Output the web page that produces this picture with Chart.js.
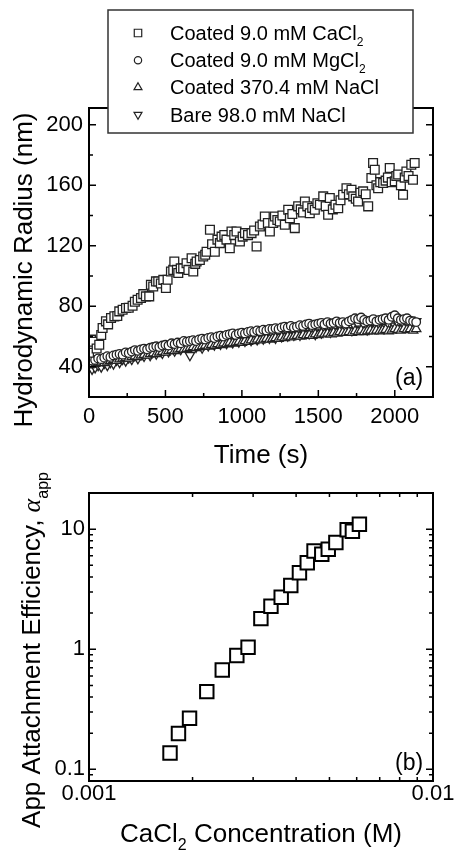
<!DOCTYPE html>
<html><head><meta charset="utf-8">
<script src="https://cdn.jsdelivr.net/npm/chart.js"></script>
<style>
html,body{margin:0;padding:0;background:#fff;}
#wrap{position:relative;width:454px;height:850px;overflow:hidden;background:#fff;}
canvas{position:absolute;left:0;}
#ca{top:0;} #cb{top:470px;}
</style></head><body>
<div id="wrap">
<canvas id="ca" width="454" height="470"></canvas>
<canvas id="cb" width="454" height="380"></canvas>
</div>
<script>
// ---------- DATA ----------
const seriesLabels = ['Coated 9.0 mM CaCl_{2}', 'Coated 9.0 mM MgCl_{2}', 'Coated 370.4 mM NaCl', 'Bare 98.0 mM NaCl'];

const timeCaCl2 = [0,13,28,50,67,80,89,111,125,144,166,185,198,220,242,260,285,300,318,340,355,372,394,405,420,438,453,470,486,503,514,536,551,558,575,584,600,616,638,650,671,682,695,704,725,747,760,769,791,805,823,840,856,867,885,899,921,932,950,965,987,1005,1020,1040,1063,1080,1096,1118,1135,1150,1170,1183,1205,1216,1232,1248,1265,1281,1303,1314,1330,1346,1368,1385,1400,1412,1428,1444,1460,1477,1494,1510,1532,1548,1564,1575,1595,1612,1630,1645,1662,1684,1700,1717,1728,1745,1760,1775,1793,1810,1826,1847,1858,1869,1880,1891,1905,1924,1940,1955,1967,1980,2000,2010,2022,2040,2054,2065,2076,2090,2108,2119,2130];
const radiusCaCl2 = [49.3,57.9,56.5,52,54.5,61,65.6,70,68,72.2,73.3,73.5,76.6,77.7,78.8,79,80.3,83,84.3,85.4,88,86.5,86.5,94.2,93,96.4,96.3,95,97.4,92,97.5,103,104,109.6,104,102,105,105,108.4,104,111.7,103,108,109.5,110.6,112.8,114,116,130.5,121,116,124,121.7,126,127,124,118.3,129.4,127,129.4,122.8,126,128.3,127,128.3,130,119.5,132.7,134,139.3,135,129.4,135,139.3,137,136,140,133.8,143.7,138.2,141,131.6,146,144,142,149.2,146,141.5,145,143.7,148,147,152.6,146,140.4,151.5,144,147,144.8,150,153.7,158,154,157,152.6,151,149.2,155,155.9,154,146,164.7,174.6,170.2,160,158,162,161.4,163,165,171.3,162,162.5,166,167,160,153.7,165,169,166,173.5,163.6,174.6];

const timeOther = [0,20,40,60,80,100,120,140,160,180,200,220,
  240,260,280,300,320,340,360,380,400,420,440,460,
  480,500,520,540,560,580,600,620,640,660,680,700,
  720,740,760,780,800,820,840,860,880,900,920,940,
  960,980,1000,1020,1040,1060,1080,1100,1120,1140,1160,1180,
  1200,1220,1240,1260,1280,1300,1320,1340,1360,1380,1400,1420,
  1440,1460,1480,1500,1520,1540,1560,1580,1600,1620,1640,1660,
  1680,1700,1720,1740,1760,1780,1800,1820,1840,1860,1880,1900,
  1920,1940,1960,1980,2000,2020,2040,2060,2080,2100,2120,2140];
const radiusMgCl2 = [43,44,44.5,45.5,45,46,47,46.5,47.5,48,48.5,48,
  49.5,49,50,51,50.5,51.5,52,51.5,52.5,53,53.5,53,
  54,54.5,54,55.5,55,56,55.5,57,56.5,57,57.5,57,
  58,58.5,58,59,59.5,59,60,60.5,60,61,61.5,62,
  61,62,62.5,62,63,63.5,63,64,63.5,64.5,64,65,
  65,65.5,65,66,66.5,66,67,66,66.5,67.5,67,68,
  68.5,67.5,68,68.5,69,68,69.5,68.5,69,70,69,69.5,
  68.5,70,71,72,71.5,72.5,71,70,70.5,71.5,70,71,
  71.5,72,71,73,74,72,71,71.5,72,70.5,70,69.5];
const radiusNaClCoated = [41,41.5,42,42.5,43,42.5,43.5,44,44.5,44,45,45.5,
  46,45.5,46.5,47,46.5,47.5,48,47.5,48.5,49,48.5,49.5,
  50,49.5,50.5,51,50.5,51.5,52,51.5,52,52.5,53,52.5,
  53,53.5,54,53.5,54.5,54,55,54.5,55.5,55,56,55.5,
  56,56.5,56,57,56.5,57.5,57,58,57.5,58,58.5,58,
  58.5,59,58.5,59.5,59,60,59.5,60,60.5,60,61,60.5,
  61,60.5,61.5,61,62,61.5,62,61.5,62.5,62,63,62.5,
  62.5,63,62.5,63.5,63,64,63,63.5,64,63.5,64,63.5,
  64,64.5,63.5,64,65,64.5,64,65,64.5,65,64,65];
const radiusNaClBare = [40,38.5,39.5,41,40,42.5,41,43,42,44.5,43,45,
  44,46,45,47.5,45.5,48,47,49.5,47.5,50,48.5,51,
  49,51.5,50,52.5,50.5,53,51.5,54,52,47.5,55,53,
  54.5,52.5,56,54,56.5,54.5,57,55,58,55.5,57.5,56,
  58.5,56.5,59,57,60,57.5,60.5,58,61,58.5,60,59,
  61.5,59,62,60,62.5,60.5,63,61,63.5,61,64,62,
  62,64.5,61.5,65,62.5,64,66,63,65,63.5,66.5,64,
  65.5,67,64,66.5,68,65,67,64.5,66,68.5,65.5,67,
  69,66,68,70,67,69,70.5,67.5,69.5,71,68,70];

const concCaCl2 = [0.00172,0.00182,0.00196,0.00220,0.00244,0.00269,0.00290,0.00316,0.00338,0.00362,0.00386,0.00409,0.00431,0.00451,0.00475,0.00496,0.00522,0.00563,0.00583,0.00611];
const alphaApp = [0.137,0.199,0.266,0.444,0.673,0.887,1.04,1.80,2.28,2.71,3.40,4.34,5.26,6.58,6.18,6.80,7.75,9.87,9.6,11.0];

const xMajorA = [0,500,1000,1500,2000];
const yMajorA = [40,80,120,160,200];
const xMajorB = [0.001,0.01];
const xLabelsB = ['0.001','0.01'];
const yMajorB = [0.1,1,10];
const yLabelsB = ['0.1','1','10'];

// ---------- HELPERS ----------
const FONT = '"Liberation Sans", Arial, Helvetica, sans-serif';
function parseRich(str){
  const parts=[]; const re=/(_|\*)\{([^}]*)\}/g; let last=0,m;
  while((m=re.exec(str))){
    if(m.index>last) parts.push({t:str.slice(last,m.index),k:''});
    parts.push({t:m[2],k:m[1]}); last=re.lastIndex;
  }
  if(last<str.length) parts.push({t:str.slice(last),k:''});
  return parts;
}
function fontFor(k,size){
  if(k==='_') return Math.round(size*0.62)+'px '+FONT;
  if(k==='*') return 'italic '+size+'px "Liberation Serif", "DejaVu Serif", serif';
  return size+'px '+FONT;
}
function richText(ctx,str,x,y,size,align,rot){
  const parts=parseRich(str);
  ctx.save();
  ctx.translate(x,y); if(rot) ctx.rotate(rot);
  ctx.textBaseline='alphabetic'; ctx.textAlign='left'; ctx.fillStyle='#000';
  let w=0; parts.forEach(p=>{ctx.font=fontFor(p.k,size); p.w=ctx.measureText(p.t).width; w+=p.w;});
  let cx = align==='center' ? -w/2 : 0;
  parts.forEach(p=>{ctx.font=fontFor(p.k,size); ctx.fillText(p.t,cx,p.k==='_'?size*0.3:0); cx+=p.w;});
  ctx.restore();
}
function marker(ctx,style,x,y,r,rot){
  ctx.beginPath();
  if(style==='rect'){const s=r*Math.SQRT1_2; ctx.rect(x-s,y-s,2*s,2*s);}
  else if(style==='circle'){ctx.arc(x,y,r,0,Math.PI*2);}
  else {let a=(rot||0)*Math.PI/180; for(let i=0;i<3;i++){const px=x+Math.sin(a)*r, py=y-Math.cos(a)*r; i?ctx.lineTo(px,py):ctx.moveTo(px,py); a+=Math.PI*2/3;} ctx.closePath();}
  ctx.fill(); ctx.stroke();
}
function near(list,v){return list.findIndex(m=>Math.abs(m-v)<=Math.abs(m)*1e-6+1e-12);}
function logKind(v){
  const e=Math.floor(Math.log10(v)+1e-9); const s=v/Math.pow(10,e);
  if(Math.abs(s-Math.round(s))>1e-6) return 0;
  return Math.round(s)===1?2:1;
}
function framePlugin(xKind,yKind,extra){
  return {
    id:'frame',
    afterDatasetsDraw(chart){
      const {ctx,chartArea:a}=chart; const xs=chart.scales.x, ys=chart.scales.y;
      ctx.save(); ctx.strokeStyle='#000'; ctx.lineWidth=1.5;
      xs.ticks.forEach(t=>{const k=xKind(t.value); if(!k) return; const L=k===2?7:4; const p=xs.getPixelForValue(t.value);
        ctx.beginPath(); ctx.moveTo(p,a.bottom); ctx.lineTo(p,a.bottom-L); ctx.moveTo(p,a.top); ctx.lineTo(p,a.top+L); ctx.stroke();});
      ys.ticks.forEach(t=>{const k=yKind(t.value); if(!k) return; const L=k===2?7:4; const p=ys.getPixelForValue(t.value);
        ctx.beginPath(); ctx.moveTo(a.left,p); ctx.lineTo(a.left+L,p); ctx.moveTo(a.right,p); ctx.lineTo(a.right-L,p); ctx.stroke();});
      ctx.lineWidth=2; ctx.strokeRect(a.left,a.top,a.right-a.left,a.bottom-a.top);
      ctx.restore();
    },
    afterDraw(chart){ if(extra) extra(chart); }
  };
}
const tickFont={family:FONT,size:22};

// ---------- CHART A ----------
const styleA=[
  {pointStyle:'rect',radius:6.2,rot:0},
  {pointStyle:'circle',radius:4.3,rot:0},
  {pointStyle:'triangle',radius:5.4,rot:0},
  {pointStyle:'triangle',radius:5.4,rot:180}
];
const xsA=[timeCaCl2,timeOther,timeOther,timeOther];
const ysA=[radiusCaCl2,radiusMgCl2,radiusNaClCoated,radiusNaClBare];
const dsA=seriesLabels.map((lab,i)=>({
  label:lab,
  data:xsA[i].map((t,j)=>({x:t,y:ysA[i][j]})),
  pointStyle:styleA[i].pointStyle, pointRadius:styleA[i].radius, pointRotation:styleA[i].rot,
  pointBorderColor:'#222', pointBackgroundColor:'#fff', pointBorderWidth:1.3,
  borderColor:'#222', backgroundColor:'#fff', showLine:false, order:i
}));
new Chart(document.getElementById('ca'),{
  type:'scatter',
  data:{datasets:dsA},
  options:{
    responsive:false, animation:false, events:[],
    layout:{padding:{top:108,right:21,left:0,bottom:0}},
    plugins:{legend:{display:false},tooltip:{enabled:false}},
    scales:{
      x:{type:'linear',min:0,max:2250,
        grid:{display:false,drawTicks:false},border:{display:false},
        ticks:{stepSize:250,includeBounds:false,autoSkip:false,maxRotation:0,padding:7,color:'#000',font:tickFont,
          callback:v=>near(xMajorA,v)>=0?String(xMajorA[near(xMajorA,v)]):''},
        afterFit:s=>{s.height=73;s.paddingLeft=0;s.paddingRight=0;}},
      y:{type:'linear',min:20,max:211,
        grid:{display:false,drawTicks:false},border:{display:false},
        ticks:{stepSize:20,includeBounds:false,autoSkip:false,padding:6,color:'#000',font:tickFont,
          callback:v=>near(yMajorA,v)>=0?String(yMajorA[near(yMajorA,v)]):''},
        afterFit:s=>{s.width=89;s.paddingTop=0;s.paddingBottom=0;}}
    }
  },
  plugins:[framePlugin(v=>v%500===0?2:(v%250===0?1:0), v=>v%40===0?2:(v%20===0?1:0), chart=>{
    const ctx=chart.ctx, a=chart.chartArea;
    richText(ctx,'Hydrodynamic Radius (nm)',32,270,26,'center',-Math.PI/2);
    richText(ctx,'Time (s)',(a.left+a.right)/2,463,26,'center',0);
    richText(ctx,'(a)',a.right-38,a.bottom-12,23,'left',0);
    // legend
    ctx.save();
    ctx.fillStyle='#fff'; ctx.fillRect(108,10,305,123);
    ctx.strokeStyle='#333'; ctx.lineWidth=1.5; ctx.strokeRect(108,10,305,123);
    seriesLabels.forEach((lab,i)=>{
      const y=33+i*27.2;
      ctx.fillStyle='#fff'; ctx.strokeStyle='#222'; ctx.lineWidth=1.2;
      marker(ctx,styleA[i].pointStyle,138,y,styleA[i].radius*0.85,styleA[i].rot);
      richText(ctx,lab,170,y+7,20,'left',0);
    });
    ctx.restore();
  })]
});

// ---------- CHART B ----------
new Chart(document.getElementById('cb'),{
  type:'scatter',
  data:{datasets:[{
    label:'CaCl2',
    data:concCaCl2.map((c,i)=>({x:c,y:alphaApp[i]})),
    pointStyle:'rect',pointRadius:9.5,pointBorderWidth:2,
    pointBorderColor:'#000',pointBackgroundColor:'#fff',showLine:false
  }]},
  options:{
    responsive:false, animation:false, events:[],
    layout:{padding:{top:23,right:21,left:0,bottom:0}},
    plugins:{legend:{display:false},tooltip:{enabled:false}},
    scales:{
      x:{type:'logarithmic',min:0.001,max:0.01,
        grid:{display:false,drawTicks:false},border:{display:false},
        ticks:{autoSkip:false,maxRotation:0,padding:0,color:'#000',font:tickFont,
          callback:v=>{const i=near(xMajorB,v);return i>=0?xLabelsB[i]:'';}},
        afterFit:s=>{s.height=69;s.paddingLeft=0;s.paddingRight=0;}},
      y:{type:'logarithmic',min:0.08,max:20,
        grid:{display:false,drawTicks:false},border:{display:false},
        ticks:{autoSkip:false,padding:4,color:'#000',font:tickFont,
          callback:v=>{const i=near(yMajorB,v);return i>=0?yLabelsB[i]:'';}},
        afterFit:s=>{s.width=89;s.paddingTop=0;s.paddingBottom=0;}}
    }
  },
  plugins:[framePlugin(logKind,logKind,chart=>{
    const ctx=chart.ctx, a=chart.chartArea;
    richText(ctx,'App Attachment Efficiency, *{α}_{app}',40,180,26,'center',-Math.PI/2);
    richText(ctx,'CaCl_{2} Concentration (M)',(a.left+a.right)/2,372,26,'center',0);
    richText(ctx,'(b)',a.right-38,a.bottom-11,23,'left',0);
  })]
});
</script>
</body></html>
